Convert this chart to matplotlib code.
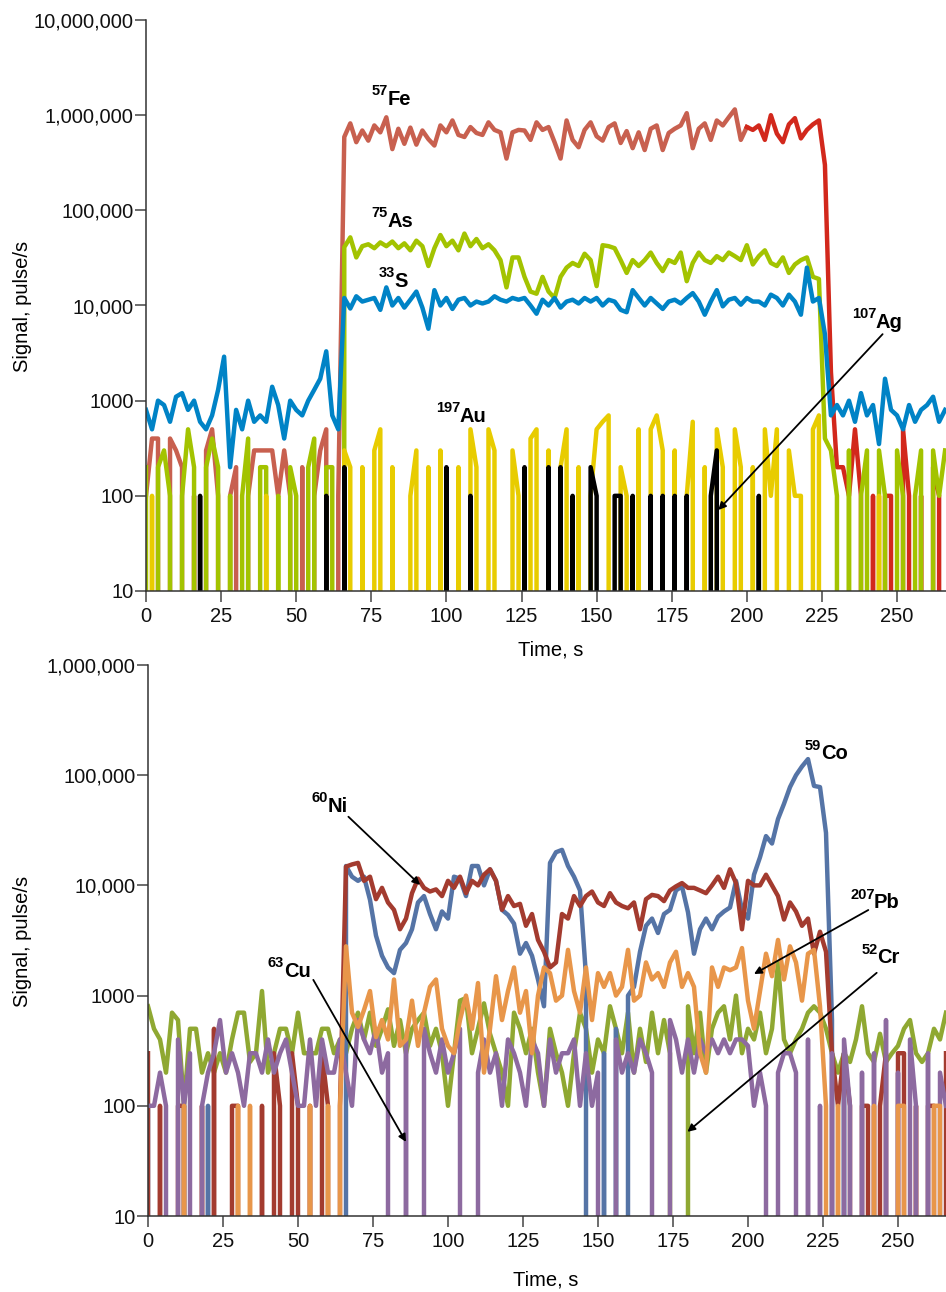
import numpy as np
import matplotlib
matplotlib.use("Agg")
import matplotlib.pyplot as plt
from matplotlib.ticker import NullLocator
from matplotlib.transforms import offset_copy

plt.rcParams['font.family'] = ['Liberation Sans', 'DejaVu Sans']

# time axis, one reading every 2 s (0 ... 266 s)
time = np.arange(0, 267, 2)

# ---- upper panel, pulse/s (0 = no counts) ----
s33 = [800, 500, 1000, 900, 600, 1100, 1200, 800, 1000, 600,
       500, 700, 1300, 2900, 200, 800, 500, 1000, 600, 700,
       600, 1400, 900, 400, 1000, 800, 700, 1000, 1300, 1700,
       3300, 700, 500, 12000, 9300, 12500, 11000, 11500, 12000, 9000,
       15500, 10000, 12000, 9500, 11500, 14000, 9500, 5700, 14500, 10000,
       12000, 9200, 11500, 12000, 10000, 11000, 10500, 11000, 12500, 11500,
       11000, 12000, 11500, 12000, 10000, 8200, 11500, 10000, 12000, 9500,
       11000, 11500, 10500, 12000, 11000, 12000, 10000, 11500, 11000, 9000,
       8500, 14500, 12000, 10000, 12000, 10500, 9200, 11000, 11500, 10500,
       12000, 13500, 11000, 8000, 11000, 14500, 9800, 11500, 12000, 10200,
       12000, 11000, 11000, 10000, 13000, 12000, 10000, 13000, 11000, 8000,
       25000, 11000, 12000, 5000, 700, 900, 700, 1000, 600, 1200,
       700, 900, 350, 1700, 800, 700, 500, 900, 600, 800,
       900, 1100, 600, 800]

fe57 = [100, 400, 400, 0, 400, 300, 200, 0, 100, 0,
        300, 500, 100, 0, 100, 200, 0, 100, 300, 300,
        300, 300, 100, 300, 100, 0, 200, 0, 100, 300,
        500, 0, 100, 590000, 820000, 520000, 690000, 540000, 780000, 660000,
        950000, 440000, 720000, 500000, 740000, 490000, 690000, 560000, 480000, 780000,
        660000, 880000, 620000, 590000, 750000, 650000, 620000, 840000, 700000, 660000,
        350000, 660000, 700000, 690000, 550000, 840000, 700000, 750000, 520000, 350000,
        880000, 550000, 460000, 700000, 840000, 600000, 540000, 750000, 820000, 510000,
        680000, 450000, 660000, 430000, 720000, 780000, 430000, 650000, 720000, 780000,
        1050000, 450000, 720000, 820000, 550000, 880000, 780000, 950000, 1150000, 550000,
        750000, 700000, 780000, 550000, 1000000, 640000, 520000, 800000, 930000, 570000,
        700000, 800000, 880000, 300000, 2000, 200, 200, 100, 500, 100,
        0, 100, 0, 100, 100, 0, 500, 100, 0, 100,
        0, 200, 100, 0]

as75 = [200, 0, 200, 300, 100, 0, 100, 500, 200, 0,
        200, 400, 200, 0, 100, 0, 100, 400, 0, 200,
        200, 0, 100, 0, 200, 100, 0, 200, 400, 0,
        200, 200, 0, 41000, 52000, 32000, 42000, 44000, 40000, 46000,
        42000, 47000, 40000, 45000, 38000, 48000, 42000, 26000, 40000, 55000,
        42000, 48000, 38000, 57000, 42000, 50000, 40000, 44000, 38000, 30000,
        15500, 32000, 32000, 20000, 14000, 13300, 20000, 14000, 12000, 20000,
        25000, 28000, 26000, 35000, 30000, 16000, 43000, 42000, 40000, 30000,
        22000, 30000, 26000, 30000, 36000, 28000, 23000, 30000, 28000, 36000,
        18000, 28000, 36000, 30000, 28000, 33000, 30000, 36000, 33000, 30000,
        43000, 27000, 33000, 38000, 28000, 26000, 32000, 22000, 27000, 30000,
        32000, 20000, 19000, 400, 300, 100, 0, 300, 0, 100,
        300, 0, 300, 100, 0, 300, 100, 0, 100, 300,
        0, 300, 100, 300]

au197 = [0, 100, 0, 0, 0, 0, 0, 0, 0, 0,
         0, 0, 0, 0, 0, 0, 0, 0, 0, 0,
         100, 0, 0, 0, 0, 0, 0, 0, 0, 0,
         0, 0, 0, 300, 200, 0, 200, 0, 300, 500,
         0, 200, 0, 0, 100, 300, 0, 200, 0, 300,
         0, 0, 200, 0, 500, 200, 0, 500, 300, 0,
         0, 300, 100, 0, 400, 500, 0, 300, 0, 200,
         500, 0, 200, 0, 100, 500, 600, 700, 0, 200,
         100, 0, 500, 0, 500, 700, 300, 0, 300, 0,
         100, 600, 0, 200, 0, 500, 200, 0, 500, 200,
         0, 200, 0, 500, 100, 500, 0, 300, 100, 100,
         0, 500, 700, 0, 0, 0, 0, 0, 0, 0,
         0, 0, 100, 0, 0, 0, 0, 0, 0, 0,
         0, 0, 0, 0]

ag107 = [0, 0, 0, 0, 0, 0, 0, 0, 0, 100,
         0, 0, 0, 0, 0, 0, 0, 0, 0, 0,
         0, 0, 0, 0, 0, 0, 0, 0, 0, 0,
         100, 0, 0, 200, 0, 0, 0, 0, 0, 0,
         0, 0, 0, 0, 0, 0, 0, 0, 0, 0,
         200, 0, 0, 0, 100, 0, 0, 0, 0, 0,
         0, 0, 0, 200, 0, 0, 0, 200, 0, 200,
         0, 100, 0, 0, 200, 100, 0, 0, 100, 100,
         0, 100, 0, 0, 100, 0, 100, 0, 100, 0,
         100, 0, 0, 0, 100, 300, 0, 0, 0, 0,
         0, 0, 100, 0, 0, 0, 0, 0, 0, 0,
         0, 0, 0, 0, 0, 0, 0, 0, 0, 0,
         0, 0, 0, 0, 0, 0, 0, 0, 0, 0,
         0, 0, 0, 0]

# ---- lower panel ----
cr52 = [800, 500, 400, 200, 700, 600, 100, 500, 500, 200,
        300, 200, 300, 200, 400, 700, 700, 250, 300, 1100,
        200, 300, 500, 500, 300, 700, 300, 300, 300, 500,
        500, 300, 400, 300, 500, 700, 400, 700, 350, 500,
        750, 350, 600, 300, 500, 600, 700, 350, 500, 300,
        100, 300, 900, 950, 300, 500, 850, 450, 300, 200,
        100, 700, 500, 300, 500, 200, 100, 500, 300, 200,
        100, 300, 700, 500, 200, 400, 300, 800, 500, 300,
        700, 200, 500, 250, 700, 300, 600, 300, 0, 0,
        800, 300, 700, 200, 500, 700, 800, 400, 1000, 300,
        500, 400, 700, 300, 500, 2000, 400, 300, 400, 500,
        700, 800, 700, 500, 300, 200, 300, 250, 400, 800,
        300, 250, 450, 250, 300, 350, 500, 600, 300, 250,
        300, 500, 400, 700]

co59 = [100, 0, 0, 0, 0, 0, 100, 0, 0, 0,
        100, 0, 0, 0, 0, 0, 0, 0, 0, 0,
        0, 0, 0, 0, 0, 0, 0, 0, 0, 0,
        0, 0, 0, 15000, 12000, 11000, 12000, 7400, 3500, 2300,
        1800, 1600, 2600, 3000, 4000, 7000, 8000, 5500, 4000, 5800,
        5000, 12000, 11500, 8000, 15000, 15000, 10000, 14000, 11000, 6000,
        5400, 4500, 2400, 3000, 2300, 1400, 800, 16000, 20000, 21000,
        15000, 12000, 9000, 1500, 0, 0, 300, 0, 500, 0,
        1000, 1200, 2500, 4300, 5000, 3700, 5500, 6000, 9000, 9800,
        5700, 2400, 4000, 5000, 4000, 5200, 5800, 6300, 11000, 6000,
        5000, 12500, 18000, 28000, 24000, 40000, 55000, 78000, 100000, 120000,
        140000, 80000, 78000, 30000, 600, 0, 300, 0, 0, 0,
        0, 0, 0, 0, 0, 0, 0, 0, 0, 0,
        0, 0, 0, 0]

ni60 = [300, 0, 100, 0, 0, 100, 100, 0, 0, 100,
        0, 500, 0, 0, 100, 100, 0, 0, 0, 100,
        0, 300, 100, 0, 300, 100, 0, 100, 0, 300,
        100, 0, 100, 14800, 15500, 16000, 11000, 12000, 7500, 9500,
        7000, 6000, 4000, 5000, 8500, 11500, 9500, 8800, 9200, 8000,
        11000, 9500, 12000, 8500, 11000, 10000, 12500, 14000, 11000, 6000,
        8000, 6500, 6800, 4300, 5500, 3200, 2500, 1800, 2000, 5500,
        5000, 8000, 6500, 8000, 8800, 7000, 6500, 8500, 7000, 6500,
        6200, 7000, 4000, 7500, 8200, 8000, 7200, 9000, 9800, 10500,
        9500, 9500, 9000, 8500, 10000, 12000, 9500, 14000, 10500, 4000,
        11000, 10000, 10000, 12500, 10000, 8000, 4900, 7000, 5800, 4300,
        5000, 2400, 3800, 2500, 300, 100, 300, 100, 0, 100,
        100, 0, 100, 300, 0, 300, 300, 0, 100, 0,
        100, 100, 0, 300]

cu63 = [100, 100, 200, 100, 0, 400, 100, 300, 0, 100,
        200, 300, 600, 200, 300, 200, 100, 300, 300, 200,
        400, 200, 300, 400, 200, 100, 100, 400, 100, 400,
        200, 200, 400, 200, 100, 600, 400, 300, 500, 200,
        300, 0, 0, 400, 0, 0, 500, 300, 200, 400,
        200, 300, 500, 0, 0, 200, 400, 200, 300, 100,
        400, 300, 200, 100, 400, 300, 100, 400, 200, 300,
        300, 400, 100, 300, 100, 200, 0, 0, 400, 200,
        300, 200, 400, 300, 200, 0, 0, 600, 400, 200,
        400, 200, 400, 300, 400, 300, 400, 300, 400, 400,
        350, 100, 200, 100, 0, 200, 300, 300, 200, 0,
        400, 0, 100, 0, 300, 0, 400, 100, 0, 200,
        0, 300, 0, 600, 0, 200, 0, 400, 100, 0,
        300, 0, 200, 100]

pb207 = [0, 0, 0, 0, 0, 0, 100, 0, 0, 0,
         0, 0, 0, 0, 0, 100, 0, 100, 0, 0,
         0, 0, 0, 0, 0, 0, 0, 100, 0, 0,
         100, 0, 100, 2800, 700, 520, 740, 1100, 420, 600,
         400, 1400, 350, 400, 900, 350, 700, 1200, 1400, 500,
         350, 300, 600, 1000, 500, 1300, 200, 500, 1500, 600,
         1100, 1800, 700, 1100, 300, 1000, 1800, 1600, 900, 1000,
         2600, 1100, 700, 1800, 600, 1600, 1200, 1600, 1000, 1200,
         2600, 900, 1000, 2000, 1400, 1600, 1200, 2000, 2500, 1200,
         1600, 1200, 300, 200, 1800, 1200, 1800, 1700, 1800, 2700,
         900, 500, 1100, 2400, 1500, 3200, 1400, 2800, 2000, 900,
         2400, 2600, 800, 100, 0, 100, 0, 0, 0, 0,
         0, 100, 0, 0, 0, 100, 100, 0, 0, 0,
         0, 100, 100, 0]

top_ticks = [10, 100, 1000, 1e4, 1e5, 1e6, 1e7]
top_labels = ['10', '100', '1000', '10,000', '100,000', '1,000,000', '10,000,000']
bot_ticks = top_ticks[:-1]
bot_labels = top_labels[:-1]

LW = 3.2
W, H = 946, 1292
fig = plt.figure(figsize=(W / 100, H / 100), dpi=100)
ax1 = fig.add_axes([146 / W, (H - 591) / H, 800 / W, 571 / H])
ax2 = fig.add_axes([148 / W, (H - 1216) / H, 798 / W, 551 / H])


def style(ax, ticks, labels, xmax):
    ax.set_yscale('log', nonpositive='clip')
    ax.set_xlim(0, xmax)
    ax.set_ylim(ticks[0], ticks[-1])
    ax.set_yticks(ticks)
    ax.set_yticklabels(labels)
    ax.yaxis.set_minor_locator(NullLocator())
    ax.set_xticks(range(0, 251, 25))
    for side in ('top', 'right'):
        ax.spines[side].set_visible(False)
    for side in ('left', 'bottom'):
        ax.spines[side].set_linewidth(1.1)
        ax.spines[side].set_color('#333333')
    ax.tick_params(axis='both', direction='out', length=8, width=1.1,
                   color='#444444', labelsize=14.5, labelcolor='#111111')
    ax.tick_params(axis='y', pad=1)
    ax.tick_params(axis='x', pad=3.5)


def iso(ax, x, y, mass, sym):
    # mass number as a raised small label, element symbol right after it
    sup = offset_copy(ax.transData, fig=fig, x=0, y=7, units='points')
    ax.text(x, y, mass, transform=sup, fontsize=10.5, fontweight='bold',
            ha='left', va='baseline', zorder=10)
    dx = 0.556 * 10.5 * len(mass) - 0.3
    main = offset_copy(ax.transData, fig=fig, x=dx, y=0, units='points')
    ax.text(x, y, sym, transform=main, fontsize=14.5, fontweight='bold',
            ha='left', va='baseline', zorder=10)


def arrow(ax, start, end):
    ax.annotate('', xy=end, xytext=start, zorder=10,
                arrowprops=dict(arrowstyle='-|>', color='black', lw=1.3,
                                mutation_scale=11, shrinkA=0, shrinkB=0))


# upper panel
style(ax1, top_ticks, top_labels, 266.3)
split = 100  # Fe trace turns red from 200 s
ax1.plot(time[:split + 1], fe57[:split + 1], color='#C8604F', lw=LW)
ax1.plot(time[split:], fe57[split:], color='#D2281C', lw=LW)
ax1.plot(time, as75, color='#A3C300', lw=LW)
ax1.plot(time, s33, color='#0083C6', lw=LW)
ax1.plot(time, au197, color='#E8CC00', lw=LW)
ax1.plot(time, ag107, color='black', lw=LW)

iso(ax1, 75.2, 1.28e6, '57', 'Fe')
iso(ax1, 75.0, 6.7e4, '75', 'As')
iso(ax1, 77.3, 1.57e4, '33', 'S')
iso(ax1, 96.5, 600, '197', 'Au')
iso(ax1, 235.0, 5.8e3, '107', 'Ag')
arrow(ax1, (245.2, 5.0e3), (190.5, 71))

# lower panel
style(ax2, bot_ticks, bot_labels, 266)
ax2.plot(time, cr52, color='#8FA832', lw=LW)
ax2.plot(time, co59, color='#5574A6', lw=LW)
ax2.plot(time, ni60, color='#A33B2F', lw=LW)
ax2.plot(time, cu63, color='#8D6AA0', lw=LW)
ax2.plot(time, pb207, color='#E8964A', lw=LW)

iso(ax2, 219, 1.39e5, '59', 'Co')
iso(ax2, 54.6, 4.67e4, '60', 'Ni')
iso(ax2, 234.0, 6.2e3, '207', 'Pb')
iso(ax2, 237.7, 1.96e3, '52', 'Cr')
iso(ax2, 40.0, 1.49e3, '63', 'Cu')
arrow(ax2, (66.8, 4.2e4), (90.7, 1.01e4))
arrow(ax2, (240.1, 5.98e3), (202, 1.57e3))
arrow(ax2, (242.9, 1.61e3), (179.8, 58))
arrow(ax2, (55.1, 1.39e3), (86, 47))

# axis titles
fig.text(551 / W, 1 - 650 / H, 'Time, s', fontsize=14.5, ha='center', va='center')
fig.text(546 / W, 1 - 1280 / H, 'Time, s', fontsize=14.5, ha='center', va='center')
fig.text(22 / W, 1 - 306 / H, 'Signal, pulse/s', fontsize=14.5, rotation=90,
         ha='center', va='center')
fig.text(22 / W, 1 - 941 / H, 'Signal, pulse/s', fontsize=14.5, rotation=90,
         ha='center', va='center')

fig.savefig('out.png', dpi=100)
